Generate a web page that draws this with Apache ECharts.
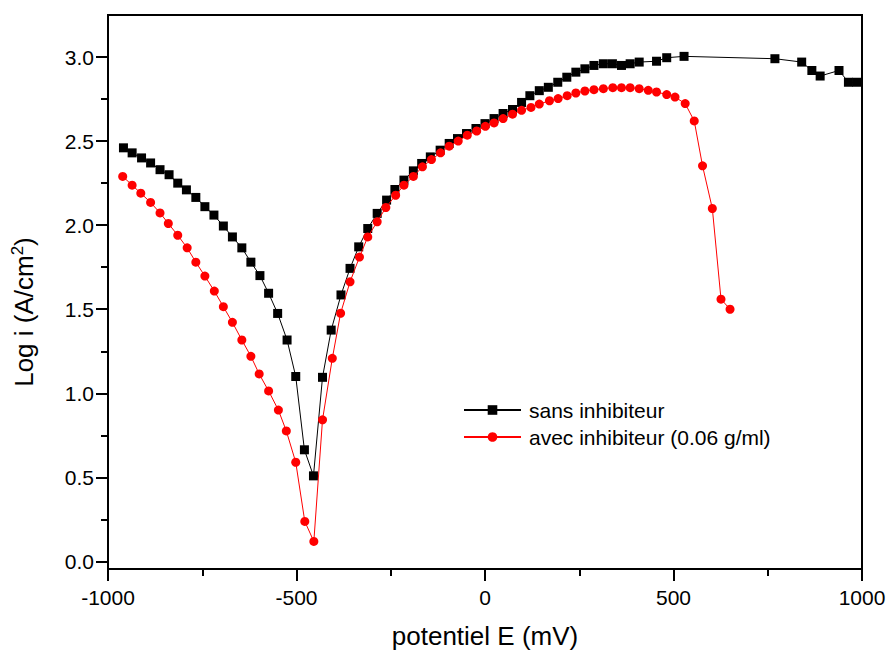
<!DOCTYPE html>
<html>
<head>
<meta charset="utf-8">
<script src="https://cdn.jsdelivr.net/npm/echarts@6/dist/echarts.min.js"></script>
<style>
  html, body { margin: 0; padding: 0; background: #fff; }
  #chart { width: 887px; height: 655px; }
</style>
</head>
<body>
<div id="chart"></div>
<script>
// Polarisation curves: potential (mV) vs log current density
const potentialSans = [-959, -936, -911, -887, -862, -838, -815, -792, -767, -743, -719, -694, -670, -645, -621, -597, -574, -550, -525, -502, -479, -455, -431,
  -408, -382, -358, -335, -311, -286, -261, -239, -215, -190, -168, -145, -119, -95, -73, -49, -24,
  0, 24, 48, 73, 97, 119, 144, 168, 193, 217, 241, 265, 289, 314, 338, 362, 385, 409, 455, 482, 528,
  769, 840, 867, 889, 939, 964, 986];
const logISans = [2.46, 2.43, 2.40, 2.37, 2.33, 2.30, 2.25, 2.21, 2.165, 2.11, 2.06, 1.995, 1.93, 1.865, 1.78, 1.70, 1.595, 1.475, 1.317, 1.10, 0.664, 0.509, 1.095,
  1.376, 1.585, 1.743, 1.871, 1.98, 2.07, 2.149, 2.212, 2.268, 2.323, 2.367, 2.406, 2.446, 2.486, 2.515, 2.545, 2.575,
  2.604, 2.634, 2.664, 2.688, 2.73, 2.77, 2.80, 2.82, 2.85, 2.88, 2.91, 2.93, 2.95, 2.96, 2.96, 2.95, 2.96, 2.97, 2.975, 2.996, 3.004,
  2.99, 2.97, 2.92, 2.887, 2.92, 2.85, 2.85];

const potentialAvec = [-961, -936, -913, -887, -862, -840, -815, -790, -767, -743, -718, -694, -670, -645, -621, -599, -574, -548, -527, -502, -478, -454,
  -431, -405, -383, -358, -333, -311, -286, -263, -237, -215, -190, -166, -142, -118, -95, -71, -47, -22,
  1, 24, 48, 73, 97, 122, 144, 171, 194, 218, 241, 265, 289, 314, 339, 362, 385, 409, 433, 455, 482, 504, 531, 555, 577, 603, 626, 650];
const logIAvec = [2.29, 2.238, 2.19, 2.135, 2.073, 2.01, 1.94, 1.865, 1.78, 1.697, 1.608, 1.515, 1.422, 1.317, 1.22, 1.115, 1.014, 0.90, 0.776, 0.59, 0.238, 0.119,
  0.842, 1.208, 1.476, 1.663, 1.81, 1.93, 2.02, 2.105, 2.178, 2.238, 2.29, 2.347, 2.39, 2.43, 2.47, 2.50, 2.535, 2.56,
  2.588, 2.608, 2.634, 2.66, 2.683, 2.70, 2.72, 2.74, 2.753, 2.77, 2.786, 2.798, 2.806, 2.812, 2.818, 2.818, 2.818, 2.812, 2.802, 2.792, 2.777, 2.762, 2.723, 2.62, 2.353, 2.099, 1.56, 1.50];

const seriesNames = ['sans inhibiteur', 'avec inhibiteur (0.06 g/ml)'];
const yMajorTicks = [0, 0.5, 1.0, 1.5, 2.0, 2.5, 3.0];
const yMinorTicks = [0.25, 0.75, 1.25, 1.75, 2.25, 2.75];

const FONT = 'Liberation Sans, Arial, sans-serif';
const zip = (xs, ys) => xs.map((x, i) => [x, ys[i]]);

const chart = echarts.init(document.getElementById('chart'), null, { renderer: 'svg' });

const yBase = {
  type: 'value',
  min: -0.045,
  max: 3.25,
  splitLine: { show: false }
};

chart.setOption({
  animation: false,
  backgroundColor: '#fff',
  grid: {
    left: 108, right: 25, top: 15, bottom: 86,
    outerBoundsMode: 'none', containLabel: false,
    show: true, borderColor: '#000', borderWidth: 2, backgroundColor: 'transparent'
  },
  legend: {
    left: 458, top: 394, orient: 'vertical',
    itemWidth: 57, itemHeight: 12, itemGap: 5,
    textStyle: { fontFamily: FONT, fontSize: 21, color: '#000', lineHeight: 22, padding: [0, 0, 0, 3] },
    data: seriesNames
  },
  xAxis: {
    type: 'value',
    min: -1000, max: 1000, interval: 500,
    name: 'potentiel E (mV)',
    nameLocation: 'middle', nameGap: 54,
    nameTextStyle: { fontFamily: FONT, fontSize: 26, color: '#000' },
    axisLine: { show: true, onZero: false, lineStyle: { color: '#000', width: 2 } },
    axisTick: { show: true, inside: false, length: 12, lineStyle: { color: '#000', width: 2 } },
    minorTick: { show: true, splitNumber: 2, length: 7, lineStyle: { color: '#000', width: 2 } },
    axisLabel: { fontFamily: FONT, fontSize: 21, color: '#000', margin: 18, formatter: v => String(v) },
    splitLine: { show: false }
  },
  yAxis: [
    Object.assign({}, yBase, {
      name: 'Log i (A/cm{sup|2})',
      nameLocation: 'middle', nameGap: 70,
      nameTextStyle: {
        fontFamily: FONT, fontSize: 26, color: '#000', padding: [0, 40, 0, 0],
        rich: { sup: { fontFamily: FONT, fontSize: 17, color: '#000', verticalAlign: 'top', padding: [0, 0, 12, 0] } }
      },
      axisLine: { show: true, onZero: false, lineStyle: { color: '#000', width: 2 } },
      axisTick: { show: true, inside: false, length: 12, customValues: yMajorTicks, lineStyle: { color: '#000', width: 2 } },
      axisLabel: {
        fontFamily: FONT, fontSize: 21, color: '#000', margin: 14,
        customValues: yMajorTicks,
        formatter: v => v.toFixed(1)
      }
    }),
    Object.assign({}, yBase, {
      position: 'left',
      axisLine: { show: false, onZero: false },
      axisTick: { show: true, inside: false, length: 7, customValues: yMinorTicks, lineStyle: { color: '#000', width: 2 } },
      axisLabel: { show: false }
    })
  ],
  series: [
    {
      name: seriesNames[0], type: 'line', yAxisIndex: 0,
      data: zip(potentialSans, logISans),
      symbol: 'rect', symbolSize: 9,
      itemStyle: { color: '#000' },
      lineStyle: { color: '#000', width: 1 },
      z: 2
    },
    {
      name: seriesNames[1], type: 'line', yAxisIndex: 0,
      data: zip(potentialAvec, logIAvec),
      symbol: 'circle', symbolSize: 9,
      itemStyle: { color: '#ff0000' },
      lineStyle: { color: '#ff0000', width: 1 },
      z: 3
    }
  ]
});
</script>
</body>
</html>
